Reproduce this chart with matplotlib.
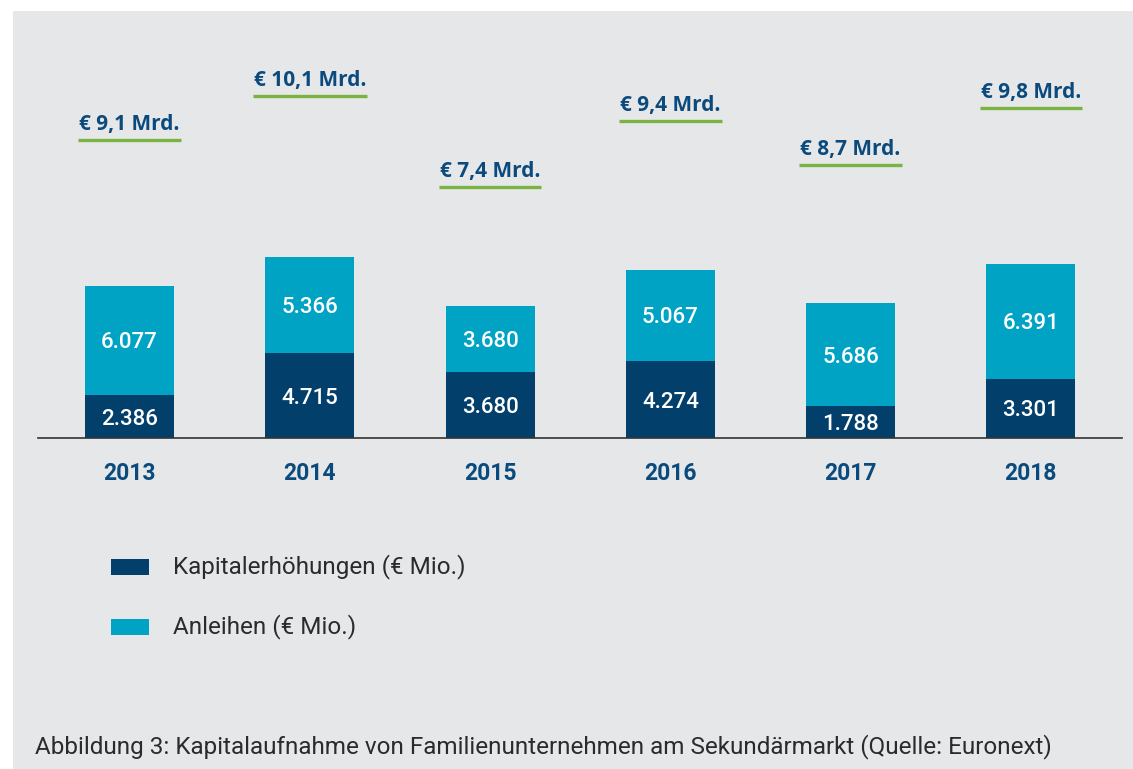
import numpy as np
import matplotlib.pyplot as plt
from matplotlib.patches import Rectangle
from matplotlib.lines import Line2D
from matplotlib.transforms import IdentityTransform

# data (EUR Mio.)
years = ['2013', '2014', '2015', '2016', '2017', '2018']
kapital = [2386, 4715, 3680, 4274, 1788, 3301]
anleihen = [6077, 5366, 3680, 5067, 5686, 6391]
totals_mrd = ['9,1', '10,1', '7,4', '9,4', '8,7', '9,8']
# height where the "Mrd." labels sit (same units as the bars)
label_height = [17400, 19850, 14800, 18450, 16000, 19180]

NAVY = '#023f6b'
CYAN = '#00a3c4'
BG = '#e6e7e9'
GREEN = '#7bb342'
BLUE_TXT = '#0b4a7c'
GREY_TXT = '#2b2b2b'

W, H = 1133, 769
fig = plt.figure(figsize=(W / 100, H / 100), dpi=100)
fig.patch.set_facecolor('white')

def fx(px):
    return px / W

def fy(py):
    return 1 - py / H

# grey panel
fig.add_artist(Rectangle((fx(13), 0), 1 - fx(13), fy(11), transform=fig.transFigure,
                         facecolor=BG, edgecolor='none', zorder=0))

# axes: x 38..1122 px, y 11..438 px
ax = fig.add_axes([fx(38), fy(438), fx(1122) - fx(38), fy(11) - fy(438)])
ax.set_facecolor('none')
px_per_unit = 0.018
ax.set_xlim(-0.5075, 5.505)
ax.set_ylim(0, 427 / px_per_unit)

x = np.arange(len(years))
bw = 0.494
ax.bar(x, kapital, width=bw, color=NAVY, zorder=2)
ax.bar(x, anleihen, width=bw, bottom=kapital, color=CYAN, zorder=2)

lab_font = dict(family='Roboto', fontsize=16, color='white', ha='center',
                va='center_baseline', fontweight='medium')
for i in range(len(years)):
    ax.text(x[i], kapital[i] / 2, f'{kapital[i] / 1000:.3f}', **lab_font)
    ax.text(x[i], kapital[i] + anleihen[i] / 2, f'{anleihen[i] / 1000:.3f}', **lab_font)

for s in ['top', 'right', 'left']:
    ax.spines[s].set_visible(False)
ax.spines['bottom'].set_color('#333333')
ax.spines['bottom'].set_linewidth(1.2)
ax.set_yticks([])
ax.set_xticks(x)
ax.set_xticklabels(years, family='Roboto', fontsize=16.5, fontweight='bold', color=BLUE_TXT)
ax.tick_params(axis='x', length=0, pad=17)

mrd_texts = []
for i in range(len(years)):
    t = ax.text(x[i], label_height[i], f'€ {totals_mrd[i]} Mrd.', family='Open Sans',
                fontweight='bold', fontsize=15, color=BLUE_TXT, ha='center', va='center')
    mrd_texts.append(t)

# legend
legend_items = [('Kapitalerhöhungen (€ Mio.)', NAVY), ('Anleihen (€ Mio.)', CYAN)]
for k, (name, col) in enumerate(legend_items):
    cy = 567 + 60 * k
    fig.add_artist(Rectangle((fx(111), fy(cy + 8)), fx(38), 16 / H, transform=fig.transFigure,
                             facecolor=col, edgecolor='none'))
    fig.text(fx(173), fy(cy), name, family='Roboto', fontsize=17.5, color=GREY_TXT,
             ha='left', va='center')

fig.text(fx(35), fy(747), 'Abbildung 3: Kapitalaufnahme von Familienunternehmen am Sekundärmarkt (Quelle: Euronext)',
         family='Roboto', fontsize=17.5, color=GREY_TXT, ha='left', va='center')

# green underlines below the Mrd. labels
fig.canvas.draw()
r = fig.canvas.get_renderer()
for t in mrd_texts:
    bb = t.get_window_extent(r)
    yc = (bb.y0 + bb.y1) / 2 - 15
    fig.add_artist(Line2D([bb.x0 - 1, bb.x1 + 1], [yc, yc], transform=IdentityTransform(),
                          color=GREEN, linewidth=2.4, solid_capstyle='butt'))

fig.savefig('out.png', dpi=100, facecolor=fig.get_facecolor())
